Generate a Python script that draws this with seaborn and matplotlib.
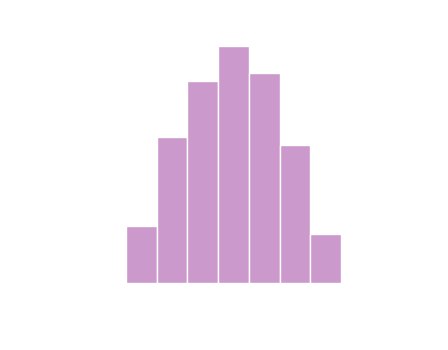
import matplotlib
matplotlib.use("Agg")
import matplotlib.pyplot as plt
import numpy as np
import seaborn as sns

# Histogram bins and their counts
bin_edges = [0, 1, 2, 3, 4, 5, 6, 7]
bin_centers = [0.5, 1.5, 2.5, 3.5, 4.5, 5.5, 6.5]
counts = [23, 59, 82, 96, 85, 56, 20]

sns.set_theme(style="white")

fig = plt.figure(figsize=(4.48, 3.5), dpi=100)
ax = fig.add_axes([126 / 448, (350 - 283) / 350, 215 / 448, 237 / 350])

sns.histplot(x=bin_centers, weights=counts, bins=bin_edges,
             color="#cc99cc", edgecolor="white", linewidth=1.0,
             alpha=1.0, ax=ax)

ax.set_xlim(bin_edges[0], bin_edges[-1])
ax.set_ylim(0, max(counts))
ax.set_axis_off()

fig.savefig("out.png", dpi=100, facecolor="white")
